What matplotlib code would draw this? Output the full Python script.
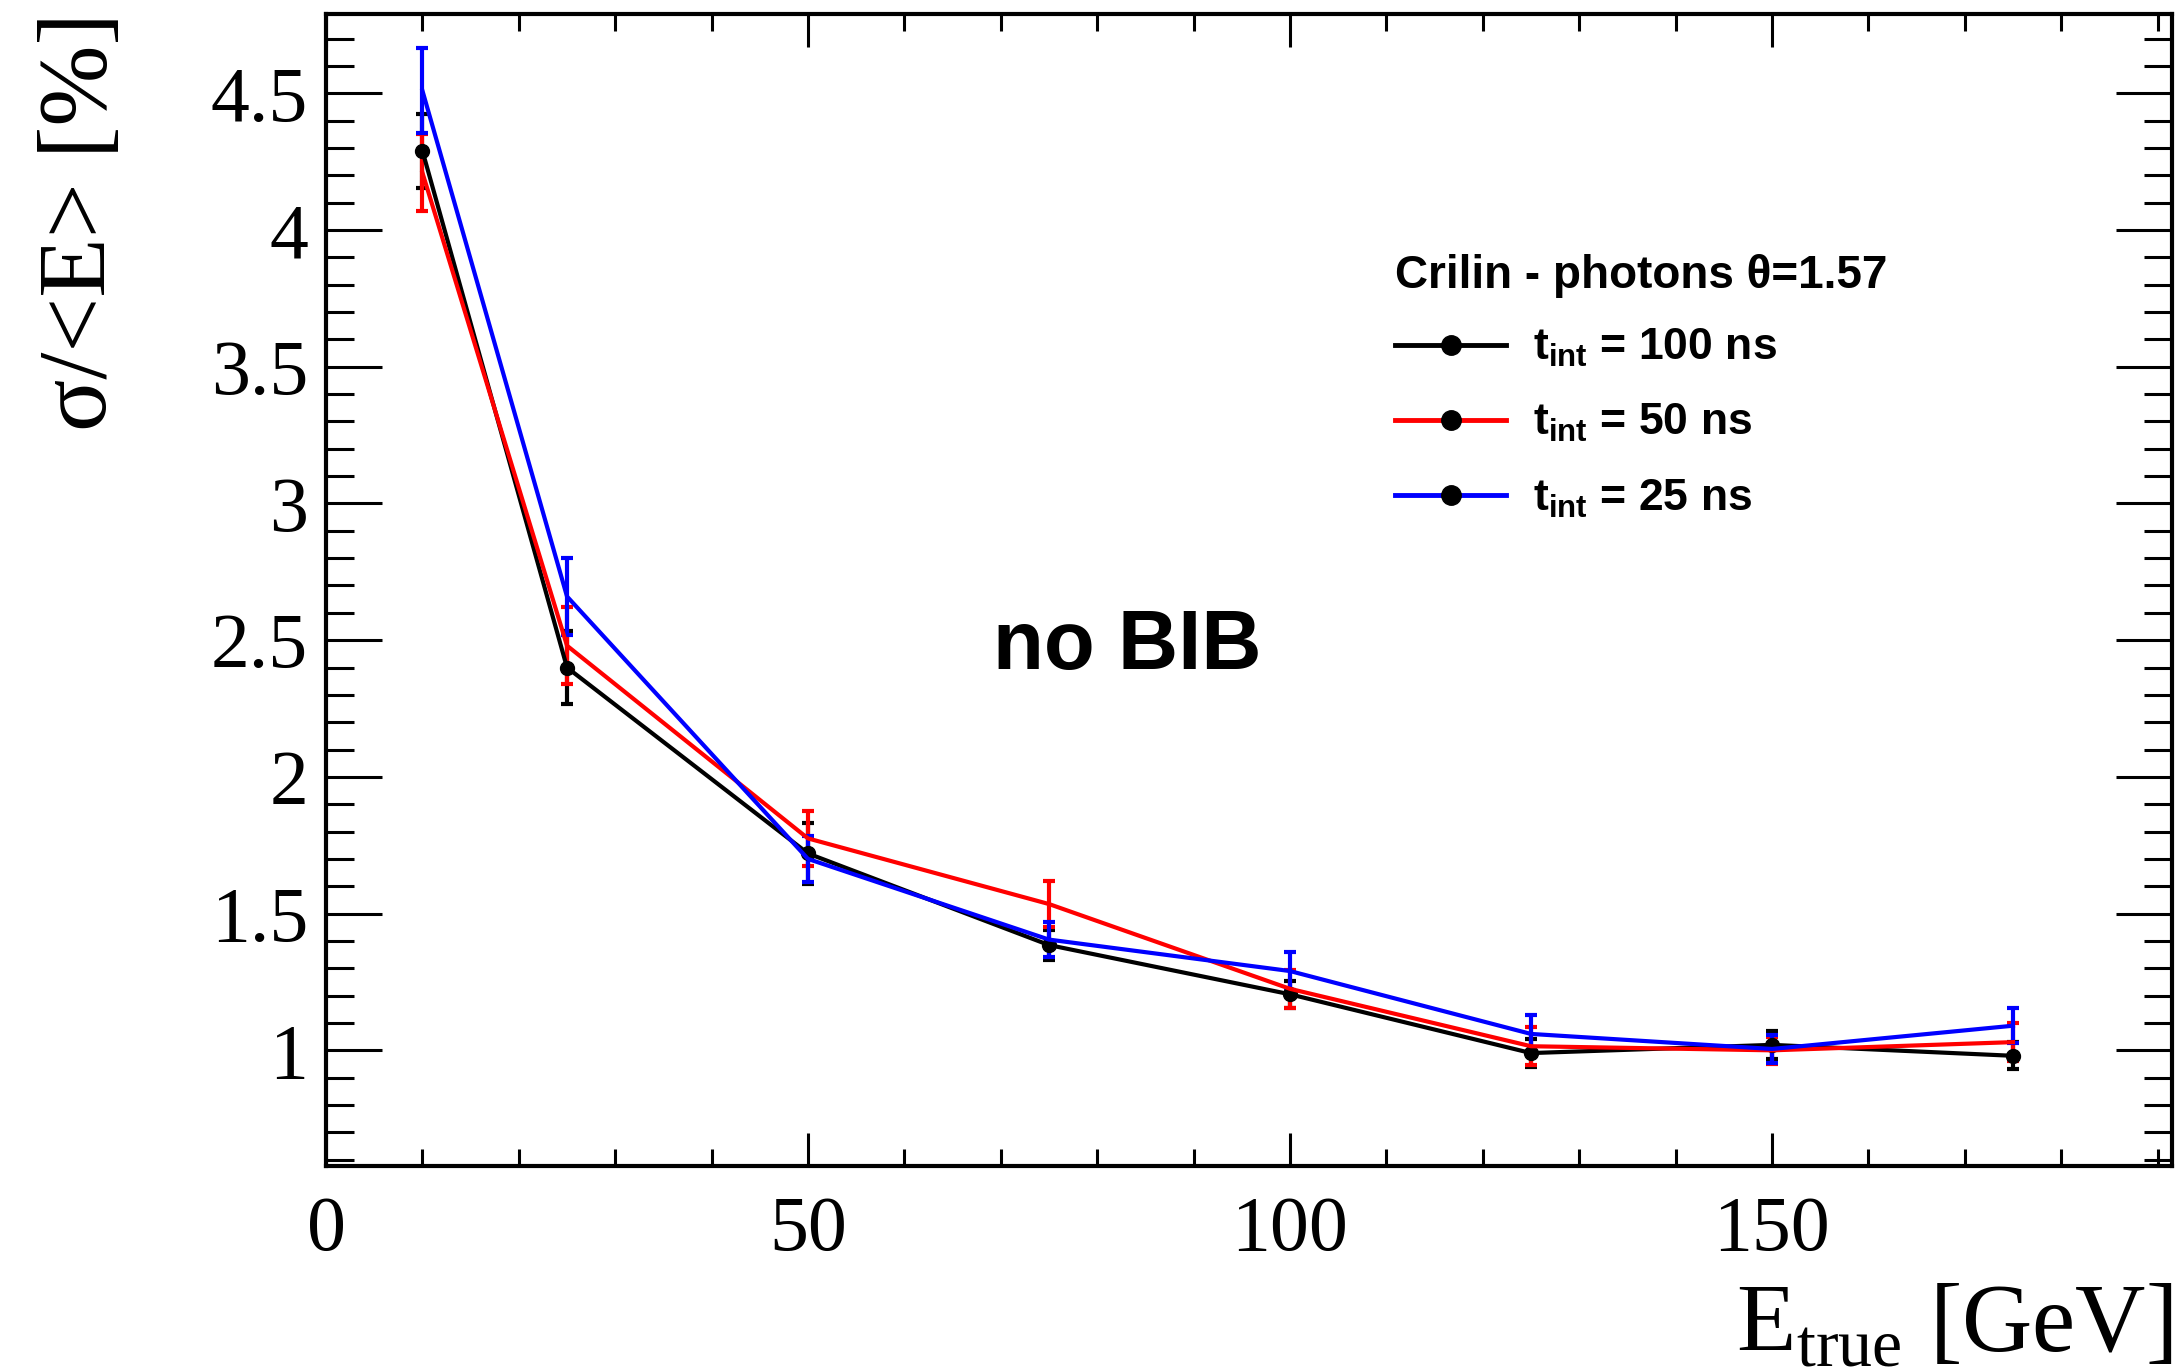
import matplotlib
matplotlib.use('Agg')
import matplotlib.pyplot as plt
from matplotlib.lines import Line2D
from matplotlib.ticker import MultipleLocator

# Energy resolution vs true photon energy, three integration times
energy = [10, 25, 50, 75, 100, 125, 150, 175]

res_100ns = [4.29, 2.40, 1.72, 1.385, 1.205, 0.99, 1.02, 0.98]
err_100ns = [0.135, 0.135, 0.11, 0.055, 0.05, 0.05, 0.05, 0.05]

res_50ns = [4.21, 2.48, 1.775, 1.535, 1.225, 1.015, 1.0, 1.03]
err_50ns = [0.14, 0.14, 0.10, 0.085, 0.07, 0.07, 0.05, 0.07]

res_25ns = [4.51, 2.66, 1.70, 1.405, 1.29, 1.06, 1.005, 1.09]
err_25ns = [0.155, 0.14, 0.085, 0.065, 0.07, 0.07, 0.05, 0.065]

labels = [r'$\mathbf{t}_{\mathbf{int}}$ = 100 ns',
          r'$\mathbf{t}_{\mathbf{int}}$ = 50 ns',
          r'$\mathbf{t}_{\mathbf{int}}$ = 25 ns']
colors = ['black', 'red', 'blue']

plt.rcParams['mathtext.fontset'] = 'custom'
plt.rcParams['mathtext.rm'] = 'Liberation Serif'
plt.rcParams['mathtext.bf'] = 'Liberation Sans:bold'

W, H = 2177, 1372
fig = plt.figure(figsize=(W / 100, H / 100), dpi=100)
ax = fig.add_axes([326 / W, 1 - 1166 / H, (2172 - 326) / W, (1166 - 14) / H])

series = [(res_100ns, err_100ns), (res_50ns, err_50ns), (res_25ns, err_25ns)]
for i, ((vals, errs), col) in enumerate(zip(series, colors)):
    # only the first graph shows its (black) markers, the others hide under the lines
    ax.errorbar(energy, vals, yerr=errs, color=col, lw=3, elinewidth=3,
                capsize=4, capthick=3, marker='o' if i == 0 else None, ms=10,
                mfc='black', mec='black')

ax.set_xlim(0, 191.5)
ax.set_ylim(0.577, 4.79)

ax.xaxis.set_major_locator(MultipleLocator(50))
ax.xaxis.set_minor_locator(MultipleLocator(10))
ax.yaxis.set_major_locator(MultipleLocator(0.5))
ax.yaxis.set_minor_locator(MultipleLocator(0.1))
ax.yaxis.set_major_formatter(matplotlib.ticker.FuncFormatter(lambda v, p: f'{v:g}'))

ax.tick_params(which='both', direction='in', top=True, right=True, width=2.2)
ax.tick_params(axis='x', which='major', length=24, pad=21)
ax.tick_params(axis='x', which='minor', length=12)
ax.tick_params(axis='y', which='major', length=40, pad=13)
ax.tick_params(axis='y', which='minor', length=20)
for lab in ax.get_xticklabels() + ax.get_yticklabels():
    lab.set_fontfamily('Liberation Serif')
    lab.set_fontsize(56)
for sp in ax.spines.values():
    sp.set_linewidth(3)

fig.text(83 / W, 1 - 12 / H, 'σ/<E> [%]', rotation=90, ha='center', va='top',
         fontsize=70, family='Liberation Serif')
fig.text(2172 / W, 1 - 1328 / H, r'$\mathrm{E}_{\mathrm{true}}$ [GeV]', ha='right', va='center',
         fontsize=70, family='Liberation Serif')

fig.text(1127 / W, 1 - 647 / H, 'no BIB', ha='center', va='center',
         fontsize=60, family='Liberation Sans', weight='bold')

handles = [Line2D([], [], color=c, lw=3.5, marker='o', ms=14, mfc='black', mec='black')
           for c in colors]
leg = ax.legend(handles, labels, title='Crilin - photons θ=1.57', frameon=False,
                loc='upper left', bbox_to_anchor=(1395 / W, 1 - 254 / H),
                bbox_transform=fig.transFigure, borderpad=0, borderaxespad=0,
                handlelength=2.5, handletextpad=0.6, labelspacing=0.74,
                prop={'family': 'Liberation Sans', 'weight': 'bold', 'size': 32},
                title_fontproperties={'family': 'Liberation Sans', 'weight': 'bold', 'size': 33},
                alignment='left')
leg._legend_box.sep = 21

fig.savefig('out.png', dpi=100)
